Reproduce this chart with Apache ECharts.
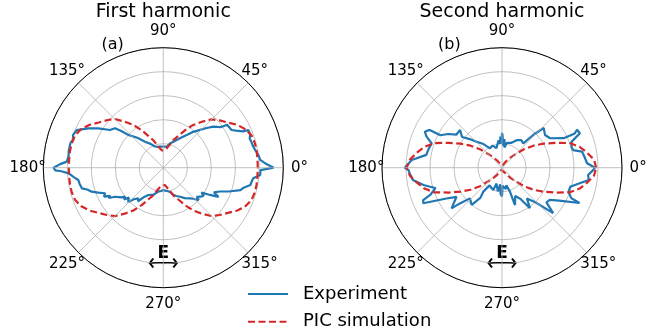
<!DOCTYPE html>
<html><head><meta charset="utf-8">
<script src="https://cdn.jsdelivr.net/npm/echarts@6/dist/echarts.min.js"></script>
<style>html,body{margin:0;padding:0;background:#fff}#c{width:646px;height:335px}</style>
</head><body><div id="c"></div>
<script>
// ---- data: [angle in degrees, normalised intensity] ----
const titles = ['First harmonic', 'Second harmonic'];
const panelTags = ['(a)', '(b)'];
const angleTicks = [0, 45, 90, 135, 180, 225, 270, 315];
const radiusTicks = [0.2, 0.4, 0.6, 0.8, 1.0];
const seriesNames = ['Experiment', 'PIC simulation'];

const expA = [[0,0.92],[2,0.86],[4.6,0.81],[7.6,0.80],[10,0.785],[13.1,0.77],[16,0.765],[18.7,0.76],[21,0.775],[23.9,0.775],[24.5,0.73],[27,0.68],[28.9,0.65],[31,0.645],[34,0.64],[35,0.59],[37,0.565],[39.4,0.54],[42.5,0.49],[45.8,0.44],[50,0.39],[54,0.34],[57.2,0.31],[62,0.27],[68,0.235],[74.6,0.21],[80.8,0.177],[86,0.175],[90,0.175],[94,0.175],[99,0.177],[105,0.18],[111.6,0.19],[118,0.225],[125.1,0.265],[131,0.33],[136.9,0.40],[139,0.47],[140.8,0.52],[144.7,0.544],[148.8,0.633],[152.3,0.706],[156.5,0.787],[160,0.80],[162.9,0.785],[165,0.80],[167.3,0.80],[170.4,0.80],[173,0.795],[176.4,0.806],[178,0.86],[180,0.915],[181.4,0.90],[182,0.85],[183.4,0.79],[186,0.75],[188.2,0.716],[191,0.71],[194.2,0.70],[196,0.66],[198.5,0.63],[201,0.58],[203.7,0.53],[206,0.55],[208,0.50],[209.1,0.52],[211,0.47],[213.3,0.465],[215,0.43],[217.1,0.40],[219,0.42],[221,0.38],[224.2,0.41],[227,0.36],[230.7,0.33],[233,0.35],[236,0.30],[239,0.30],[241.2,0.26],[245,0.25],[250,0.24],[258,0.204],[264,0.195],[270,0.186],[275,0.19],[281,0.20],[285.6,0.21],[290,0.24],[295,0.26],[300,0.28],[305,0.31],[311.1,0.34],[314,0.36],[317.3,0.40],[319,0.37],[321.7,0.39],[325,0.41],[327,0.38],[329.7,0.45],[332.2,0.52],[334,0.47],[337.1,0.51],[340,0.58],[343.8,0.67],[346,0.69],[348.7,0.74],[351,0.745],[353.3,0.755],[355.7,0.81],[358.6,0.81],[360,0.92]];

const picA = [[0,0.787],[5,0.788],[10,0.79],[15,0.79],[20,0.783],[25,0.757],[30,0.713],[35,0.657],[40,0.613],[45,0.57],[50,0.50],[55,0.435],[60,0.36],[65,0.29],[70,0.245],[75,0.195],[80,0.165],[85,0.145],[90,0.133],[95,0.145],[100,0.165],[105,0.195],[110,0.245],[115,0.29],[120,0.36],[125,0.435],[130,0.50],[135,0.575],[140,0.615],[145,0.657],[150,0.713],[155,0.757],[160,0.783],[165,0.79],[170,0.79],[175,0.788],[180,0.787],[185,0.788],[190,0.79],[195,0.79],[200,0.783],[205,0.757],[210,0.713],[215,0.657],[220,0.613],[225,0.57],[230,0.50],[235,0.435],[240,0.36],[245,0.29],[250,0.245],[255,0.195],[260,0.165],[265,0.145],[270,0.133],[275,0.145],[280,0.165],[285,0.195],[290,0.245],[295,0.29],[300,0.36],[305,0.435],[310,0.50],[315,0.57],[320,0.613],[325,0.657],[330,0.713],[335,0.757],[340,0.783],[345,0.79],[350,0.79],[355,0.788],[360,0.787]];

const expB = [[0,0.775],[3,0.71],[7,0.695],[11.4,0.68],[13.9,0.61],[17,0.605],[20.5,0.62],[23.8,0.71],[26.8,0.70],[25.2,0.67],[25.6,0.57],[31.5,0.47],[37.2,0.45],[43.6,0.48],[46.3,0.38],[48.9,0.27],[55,0.28],[62,0.26],[70,0.22],[79,0.21],[83,0.17],[85,0.24],[87,0.18],[89,0.27],[90,0.29],[91,0.20],[93,0.26],[94.7,0.20],[97,0.23],[101.5,0.22],[106,0.17],[113,0.20],[121.7,0.19],[128,0.25],[134.2,0.30],[138.5,0.36],[142.4,0.42],[138,0.47],[144.2,0.47],[148,0.53],[152.2,0.58],[152.4,0.68],[155,0.71],[157.6,0.68],[160.9,0.62],[165,0.63],[170.4,0.64],[175.1,0.755],[180,0.81],[181.4,0.78],[183.5,0.77],[187.9,0.75],[192.4,0.67],[194.8,0.62],[197,0.58],[200.8,0.64],[202.3,0.71],[204.3,0.72],[209,0.53],[212.6,0.45],[218.9,0.54],[220.3,0.46],[223.7,0.37],[230.9,0.40],[234.3,0.31],[232,0.25],[235,0.18],[248.7,0.20],[251,0.14],[255,0.13],[260,0.20],[264,0.14],[267,0.22],[270,0.24],[272,0.15],[275,0.145],[280,0.18],[284,0.15],[288.4,0.21],[289.2,0.33],[295,0.26],[300.5,0.30],[304.6,0.41],[309,0.33],[314,0.40],[318.4,0.57],[322,0.47],[326,0.48],[330,0.55],[335.5,0.71],[336.3,0.63],[340.1,0.59],[344.4,0.59],[348.7,0.66],[351.9,0.73],[355.2,0.72],[358.5,0.76],[360,0.775]];

const picB = [[0,0.785],[5,0.77],[10,0.72],[15,0.67],[20,0.60],[25,0.49],[30,0.40],[35,0.32],[40,0.24],[45,0.16],[50,0.11],[55,0.075],[60,0.05],[70,0.02],[80,0.005],[90,0],[100,0.005],[110,0.02],[120,0.05],[125,0.075],[130,0.11],[135,0.16],[140,0.24],[145,0.32],[150,0.40],[155,0.49],[160,0.60],[165,0.67],[170,0.72],[175,0.77],[180,0.795],[185,0.77],[190,0.72],[195,0.67],[200,0.60],[205,0.49],[210,0.40],[215,0.32],[220,0.24],[225,0.16],[230,0.11],[235,0.075],[240,0.05],[250,0.02],[260,0.005],[270,0],[280,0.005],[290,0.02],[300,0.05],[305,0.075],[310,0.11],[315,0.16],[320,0.24],[325,0.32],[330,0.40],[335,0.49],[340,0.60],[345,0.67],[350,0.72],[355,0.77],[360,0.785]];

// ---- layout / style ----
const FONT = 'DejaVu Sans';
const BLUE = '#1f77b4', RED = '#d62728', GRID = '#b0b0b0';
const centers = [[163.3, 167.7], [502, 167.7]];
const R = 120;

const labelStyleKey = {0:'e',45:'ne',90:'n',135:'ne',180:'w',225:'se',270:'s',315:'se'};
const base = {fontSize: 15, fontFamily: FONT, color: '#000'};
const rich = {
  e: Object.assign({padding: [0,0,0,17]}, base),
  w: Object.assign({padding: [0,7,0,0]}, base),
  n: Object.assign({padding: [0,0,18,0]}, base),
  s: Object.assign({padding: [18,0,0,0]}, base),
  ne: Object.assign({padding: [0,0,10.5,0]}, base),
  se: Object.assign({padding: [10.5,0,0,0]}, base)
};

function angleAxis(i) {
  return {
    polarIndex: i, type: 'value', min: 0, max: 360, interval: 45,
    startAngle: 0, clockwise: false, z: 5,
    axisLine: {lineStyle: {color: '#000', width: 1}},
    axisTick: {show: false},
    axisLabel: {
      margin: -9.4, rich: rich,
      formatter: function (v) {
        if (v >= 360) return '';
        return '{' + labelStyleKey[v] + '|' + v + '°}';
      }
    },
    splitLine: {lineStyle: {color: GRID, width: 0.8}}
  };
}
function radiusAxis(i) {
  return {
    polarIndex: i, type: 'value', min: 0, max: radiusTicks[radiusTicks.length - 1], interval: 0.2,
    axisLine: {show: false}, axisTick: {show: false}, axisLabel: {show: false},
    splitLine: {lineStyle: {color: GRID, width: 0.8}}
  };
}
function lineSeries(name, pts, i, color, dashed) {
  return {
    name: name, type: 'line', coordinateSystem: 'polar', polarIndex: i,
    data: pts.map(p => [p[1], p[0]]),
    showSymbol: false, symbol: 'none', smooth: false, animation: false,
    lineStyle: {color: color, width: 2.2, type: dashed ? [7, 3.5] : 'solid'},
    itemStyle: {color: color}
  };
}
function legendFor(name, top) {
  return {
    data: [name], orient: 'vertical', left: 247, top: top, itemWidth: 40, itemHeight: 14,
    itemStyle: {opacity: 0, borderWidth: 0},
    textStyle: {fontSize: 18, fontFamily: FONT, color: '#000', padding: [0,0,0,10]},
    selectedMode: false, padding: 0
  };
}

const graphics = [];
centers.forEach(c => {
  graphics.push({type: 'text', x: c[0], y: 253.5, style: {text: 'E', font: 'bold 17px ' + FONT, fill: '#000', align: 'center', verticalAlign: 'middle'}});
  graphics.push({type: 'polyline', shape: {points: [[c[0]-13.5, 263], [c[0]+13.5, 263]]}, style: {stroke: '#000', lineWidth: 2, fill: null}});
  graphics.push({type: 'polyline', shape: {points: [[c[0]-10, 258.5], [c[0]-13.5, 263], [c[0]-10, 267.5]]}, style: {stroke: '#000', lineWidth: 2, fill: null}});
  graphics.push({type: 'polyline', shape: {points: [[c[0]+10, 258.5], [c[0]+13.5, 263], [c[0]+10, 267.5]]}, style: {stroke: '#000', lineWidth: 2, fill: null}});
});

const chart = echarts.init(document.getElementById('c'), null, {renderer: 'canvas'});
chart.setOption({
  animation: false,
  backgroundColor: '#fff',
  title: [
    {text: titles[0], left: centers[0][0], top: 3, textAlign: 'center', padding: 0, textStyle: {fontSize: 19, fontWeight: 'normal', fontFamily: FONT, color: '#000'}},
    {text: titles[1], left: centers[1][0], top: 3, textAlign: 'center', padding: 0, textStyle: {fontSize: 19, fontWeight: 'normal', fontFamily: FONT, color: '#000'}},
    {text: panelTags[0], left: 101.5, top: 36.5, padding: 0, textStyle: {fontSize: 16, fontWeight: 'normal', fontFamily: FONT, color: '#000'}},
    {text: panelTags[1], left: 438, top: 36.5, padding: 0, textStyle: {fontSize: 16, fontWeight: 'normal', fontFamily: FONT, color: '#000'}}
  ],
  polar: centers.map(c => ({center: c, radius: R})),
  angleAxis: [angleAxis(0), angleAxis(1)],
  radiusAxis: [radiusAxis(0), radiusAxis(1)],
  legend: [legendFor(seriesNames[0], 285), legendFor(seriesNames[1], 312.7)],
  series: [
    lineSeries(seriesNames[0], expA, 0, BLUE, false),
    lineSeries(seriesNames[1], picA, 0, RED, true),
    lineSeries(seriesNames[0], expB, 1, BLUE, false),
    lineSeries(seriesNames[1], picB, 1, RED, true)
  ],
  graphic: graphics
});
</script>
</body></html>
